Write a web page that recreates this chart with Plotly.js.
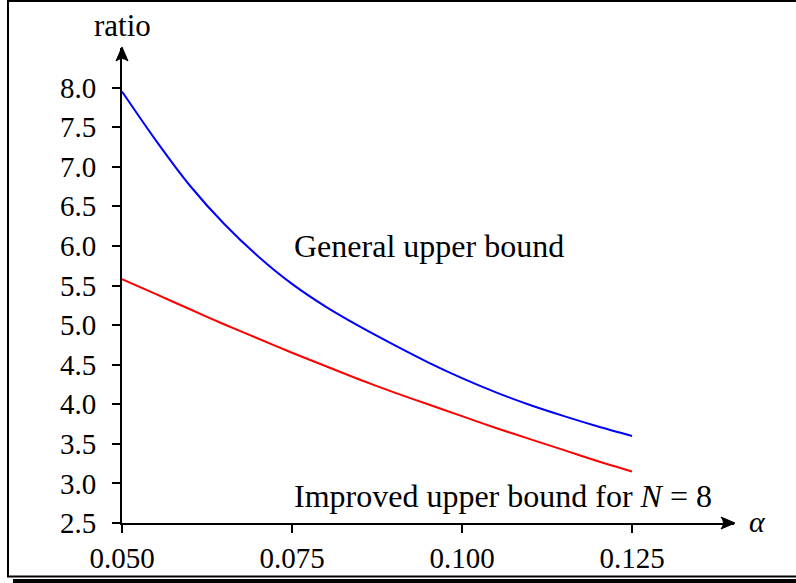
<!DOCTYPE html>
<html>
<head>
<meta charset="utf-8">
<script src="https://cdn.plot.ly/plotly-3.0.1.min.js"></script>
<style>html,body{margin:0;padding:0;background:#fff;}#chart{width:796px;height:583px;}</style>
</head>
<body>
<div id="chart"></div>
<script>
// ---- data ----
var alpha = [0.050, 0.055, 0.060, 0.065, 0.070, 0.075, 0.080, 0.085, 0.090, 0.095, 0.100, 0.105, 0.110, 0.115, 0.120, 0.125];
var generalBound = [7.95, 7.33, 6.76, 6.28, 5.87, 5.52, 5.23, 4.98, 4.75, 4.53, 4.33, 4.15, 3.99, 3.85, 3.72, 3.60];
var improvedBound = [5.58, 5.39, 5.20, 5.01, 4.83, 4.65, 4.48, 4.31, 4.15, 4.00, 3.85, 3.70, 3.56, 3.42, 3.28, 3.15];
var xTicks = [0.050, 0.075, 0.100, 0.125];
var xTickLabels = ['0.050', '0.075', '0.100', '0.125'];
var yTicks = [2.5, 3.0, 3.5, 4.0, 4.5, 5.0, 5.5, 6.0, 6.5, 7.0, 7.5, 8.0];
var yTickLabels = ['2.5', '3.0', '3.5', '4.0', '4.5', '5.0', '5.5', '6.0', '6.5', '7.0', '7.5', '8.0'];

// ---- layout geometry ----
var W = 796, H = 583;
var M = {l: 122, r: 62, t: 48, b: 60};
var pw = W - M.l - M.r, ph = H - M.t - M.b;
function px(x) { return (x - M.l) / pw; }
function py(y) { return (H - M.b - y) / ph; }

var FONT = 'Liberation Serif, Times New Roman, serif';

var traces = [
  {x: alpha, y: generalBound, mode: 'lines', line: {color: '#0000ff', width: 2, shape: 'spline', smoothing: 0.8}, hoverinfo: 'skip'},
  {x: alpha, y: improvedBound, mode: 'lines', line: {color: '#ff0000', width: 2, shape: 'spline', smoothing: 0.8}, hoverinfo: 'skip'}
];

var layout = {
  width: W, height: H,
  margin: M,
  showlegend: false,
  paper_bgcolor: '#fff', plot_bgcolor: '#fff',
  font: {family: FONT, size: 29, color: '#000'},
  xaxis: {
    range: [0.05, 0.14], showgrid: false, zeroline: false,
    showline: true, linecolor: '#000', linewidth: 2,
    ticks: 'outside', ticklen: 8, tickwidth: 2, tickcolor: '#000',
    tickvals: xTicks, ticktext: xTickLabels,
    tickfont: {family: FONT, size: 29, color: '#000'}
  },
  yaxis: {
    range: [2.5, 8.5], showgrid: false, zeroline: false,
    showline: true, linecolor: '#000', linewidth: 2,
    ticks: 'outside', ticklen: 8, tickwidth: 2, tickcolor: '#000',
    tickvals: yTicks, ticktext: yTickLabels,
    ticklabelstandoff: 10,
    tickfont: {family: FONT, size: 29, color: '#000'}
  },
  annotations: [
    {x: 0.075, y: 6.0, xref: 'x', yref: 'y', text: 'General upper bound', showarrow: false,
     xanchor: 'left', yanchor: 'middle', font: {family: FONT, size: 32, color: '#000'}},
    {x: 0.075, y: 2.84, xref: 'x', yref: 'y', text: 'Improved upper bound for <i>N</i> = 8', showarrow: false,
     xanchor: 'left', yanchor: 'middle', font: {family: FONT, size: 32, color: '#000'}},
    {x: 0, y: py(25), xref: 'paper', yref: 'paper', text: 'ratio', showarrow: false,
     xanchor: 'center', yanchor: 'middle', font: {family: FONT, size: 31, color: '#000'}},
    {x: px(747), y: py(521), xref: 'paper', yref: 'paper', text: '<i>α</i>', showarrow: false,
     xanchor: 'left', yanchor: 'middle', font: {family: FONT, size: 30, color: '#000'}}
  ],
  shapes: [
    // frame
    {type: 'rect', xref: 'paper', yref: 'paper', x0: px(8), x1: px(800), y0: py(576.5), y1: py(1),
     line: {color: '#000', width: 2}, fillcolor: 'rgba(0,0,0,0)', layer: 'below'},
    // bottom shadow
    {type: 'rect', xref: 'paper', yref: 'paper', x0: px(13), x1: px(805), y0: py(584), y1: py(579),
     line: {width: 0}, fillcolor: '#000'},
    // x-axis arrowhead
    {type: 'path', xref: 'paper', yref: 'paper', xsizemode: 'pixel', ysizemode: 'pixel',
     xanchor: 1, yanchor: 0, path: 'M 1 0 L -13 6 Q -8 0 -13 -6 Z',
     fillcolor: '#000', line: {color: '#000', width: 1}},
    // y-axis arrowhead
    {type: 'path', xref: 'paper', yref: 'paper', xsizemode: 'pixel', ysizemode: 'pixel',
     xanchor: 0, yanchor: 1, path: 'M 0 1 L 6 -13 Q 0 -8 -6 -13 Z',
     fillcolor: '#000', line: {color: '#000', width: 1}}
  ]
};

Plotly.newPlot('chart', traces, layout, {displayModeBar: false, staticPlot: true});
</script>
</body>
</html>
